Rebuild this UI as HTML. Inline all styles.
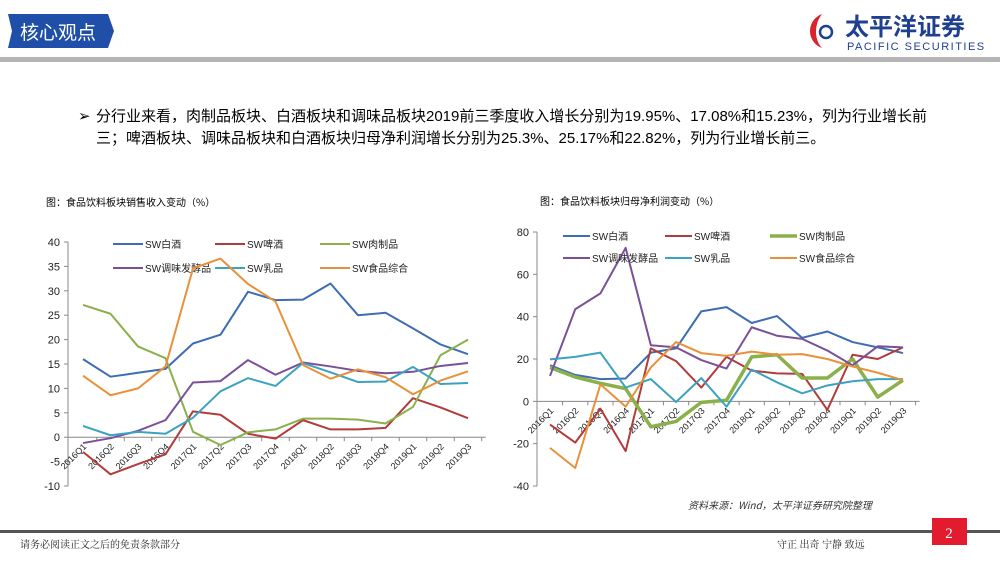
<!DOCTYPE html>
<html><head><meta charset="utf-8"><style>
body{margin:0;width:1000px;height:563px;background:#fff;position:relative;overflow:hidden;font-family:"Liberation Sans","Noto Sans CJK SC",sans-serif}
.abs{position:absolute}
</style></head><body>
<svg class="abs" style="left:0;top:0" width="1000" height="563">
  <polygon points="8,14 108,14 114,31 108,48 8,48 12,31" fill="#1f4fa8"/>
  <text x="58" y="39" fill="#fff" font-size="19" text-anchor="middle" font-family="Noto Sans CJK SC,sans-serif">核心观点</text>
  <g>
    <path d="M822 14 C806 20 806 42 822 48 C814 40 814 24 822 14Z" fill="#d8242c"/>
    <circle cx="826" cy="32" r="6" fill="none" stroke="#1f3f8f" stroke-width="2.5"/>
    <text x="845" y="35" font-size="24" font-weight="bold" fill="#1f3f8f" font-family="Noto Sans CJK SC,sans-serif">太平洋证券</text>
    <text x="847" y="50" font-size="11" fill="#1f3f8f" letter-spacing="1.5">PACIFIC SECURITIES</text>
  </g>
  <rect x="0" y="57" width="1000" height="5" fill="#b4b4b4"/>
  <text font-size="15" fill="#000" font-family="Liberation Sans,Noto Sans CJK SC,sans-serif">
    <tspan x="78" y="121">➢</tspan><tspan x="96" y="121">分行业来看，肉制品板块、白酒板块和调味品板块2019前三季度收入增长分别为19.95%、17.08%和15.23%，列为行业增长前</tspan>
    <tspan x="96" y="143">三；啤酒板块、调味品板块和白酒板块归母净利润增长分别为25.3%、25.17%和22.82%，列为行业增长前三。</tspan>
  </text>
  <text x="46" y="206" font-size="10" fill="#000" font-family="Noto Sans CJK SC,sans-serif">图：食品饮料板块销售收入变动（%）</text>
  <text x="540" y="205" font-size="10" fill="#000" font-family="Noto Sans CJK SC,sans-serif">图：食品饮料板块归母净利润变动（%）</text>
  <g id="leftChart"></g>
  <g id="rightChart"></g>
  <text x="688" y="509" font-size="10" font-style="italic" fill="#333" font-family="Noto Sans CJK SC,sans-serif">资料来源：Wind，太平洋证券研究院整理</text>
  <rect x="0" y="530" width="1000" height="3" fill="#555"/>
  <text x="20" y="548" font-size="10" fill="#222" font-family="Noto Serif CJK SC,serif">请务必阅读正文之后的免责条款部分</text>
  <text x="777" y="548" font-size="10" fill="#222" font-family="Noto Serif CJK SC,serif">守正 出奇 宁静 致远</text>
  <rect x="932" y="518" width="35" height="27" fill="#e21b2f"/>
  <text x="949" y="538" font-size="15" fill="#fff" text-anchor="middle" font-family="Liberation Serif,serif">2</text>
</svg>
<script>
const categories=["2016Q1","2016Q2","2016Q3","2016Q4","2017Q1","2017Q2","2017Q3","2017Q4","2018Q1","2018Q2","2018Q3","2018Q4","2019Q1","2019Q2","2019Q3"];
const seriesNames=["SW白酒","SW啤酒","SW肉制品","SW调味发酵品","SW乳品","SW食品综合"];
const seriesColors=["#3e6db3","#b23b3b","#8ab04a","#7b509b","#3ba2c0","#e8903a"];
const leftBaijiu=[16,12.4,13.2,14,19.2,21,29.8,28.1,28.2,31.5,25,25.5,22.3,19,17];
const leftPijiu=[-3,-7.6,-5.5,-3.5,5.3,4.6,0.7,-0.3,3.5,1.6,1.6,1.9,8,6.1,3.9];
const leftRou=[27.1,25.3,18.6,16.2,1.1,-1.6,1,1.6,3.8,3.8,3.6,2.8,6.2,16.8,20];
const leftTiaowei=[-1.2,-0.2,1.3,3.5,11.2,11.5,15.8,12.8,15.3,14.5,13.6,13.1,13.4,14.6,15.2];
const leftRu=[2.3,0.4,1.1,0.7,4,9.4,12.1,10.5,15.2,13.3,11.3,11.4,14.4,10.9,11.1];
const leftZonghe=[12.6,8.6,10,14.5,34.6,36.6,31.4,27.8,14.8,12,13.9,12.3,8.8,11.6,13.5];
const leftTicks=[40,35,30,25,20,15,10,5,0,-5,-10];
const rightBaijiu=[17,12.5,10.5,10.8,23,25,42.5,44.5,37,40.3,30,33,28,25.5,22.8];
const rightPijiu=[-11,-19.5,-3.5,-23.5,25,19,6.5,21,14.5,13.2,13,-4,22,20,25.5];
const rightRou=[16,11.5,8.5,6,-12,-9.5,-0.5,0.5,21,22,11,11,20,2,10];
const rightTiaowei=[12,43.5,51,72.5,26.5,25.5,19.5,15.5,35,31,29.5,24,17,26,25.5];
const rightRu=[19.8,21,23,6.5,10.5,-0.3,11,-2.5,15,9,3.8,7.5,9.5,10.5,10.5];
const rightZonghe=[-22,-31.5,8,-2.5,16,28,22.8,21.5,23.5,22,22.3,20,16.5,13.5,10];
const rightTicks=[80,60,40,20,0,-20,-40];
const NS="http://www.w3.org/2000/svg";
function mk(t,a,p){const e=document.createElementNS(NS,t);for(const k in a)e.setAttribute(k,a[k]);p.appendChild(e);return e;}
function draw(g,cfg){
  const {x0,x1,ax,ymax,ymin,py0,py1,ticks,series,leg,thick,stepLabel}=cfg;
  const ys=v=>py0+(ymax-v)*(py1-py0)/(ymax-ymin);
  const xs=i=>x0+i*(x1-x0)/(categories.length-1);
  const step=(x1-x0)/(categories.length-1);
  const yAxis=mk('line',{x1:ax,y1:py0,x2:ax,y2:py1,stroke:'#888','stroke-width':1},g);
  
  
  ticks.forEach(t=>{
    const tk=mk('line',{x1:ax-4,y1:ys(t),x2:ax,y2:ys(t),stroke:'#888'},g);
    
    
    const l=mk('text',{x:ax-8,y:ys(t)+4,'font-size':11,'text-anchor':'end',fill:'#222'},g);
    l.textContent=t;
    
    
  });
  const xa=mk('line',{x1:ax,y1:ys(0),x2:x1+step/2+4,y2:ys(0),stroke:'#888'},g);
  
  
  categories.forEach((c,i)=>{
    const tx=xs(i)+step/2;
    const tk=mk('line',{x1:tx,y1:ys(0),x2:tx,y2:ys(0)+4,stroke:'#888'},g);
    
    
    const lx=xs(i)+4,ly=ys(0)+stepLabel;
    const l=mk('text',{x:lx,y:ly,'font-size':9,'text-anchor':'end',fill:'#222',transform:`rotate(-45 ${lx} ${ly})`},g);
    l.textContent=c;
    
    
  });
  series.forEach((d,s)=>{
    const p=mk('polyline',{points:d.map((v,i)=>xs(i)+','+ys(v)).join(' '),fill:'none',stroke:seriesColors[s],'stroke-width':(thick&&s===2)?3.5:2,'stroke-linejoin':'round'},g);
    
    
    const lx=leg.cols[s%3],ly=leg.rows[Math.floor(s/3)];
    const ll=mk('line',{x1:lx,y1:ly,x2:lx+leg.len,y2:ly,stroke:seriesColors[s],'stroke-width':(thick&&s===2)?3.5:2},g);
    
    
    const lt=mk('text',{x:lx+leg.len+2,y:ly+4,'font-size':10,fill:'#222','font-family':'Liberation Sans,Noto Sans CJK SC,sans-serif'},g);
    lt.textContent=seriesNames[s];
    
    
  });
}
draw(document.getElementById('leftChart'),{x0:83,x1:468,ax:68,ymax:40,ymin:-10,py0:242,py1:486,ticks:leftTicks,
  series:[leftBaijiu,leftPijiu,leftRou,leftTiaowei,leftRu,leftZonghe],leg:{cols:[113,215,320],rows:[244,268],len:30},thick:false,stepLabel:10});
draw(document.getElementById('rightChart'),{x0:550,x1:903,ax:537,ymax:80,ymin:-40,py0:232,py1:486,ticks:rightTicks,
  series:[rightBaijiu,rightPijiu,rightRou,rightTiaowei,rightRu,rightZonghe],leg:{cols:[563,665,770],rows:[236,258],len:27},thick:true,stepLabel:10});
</script>
</body></html>
